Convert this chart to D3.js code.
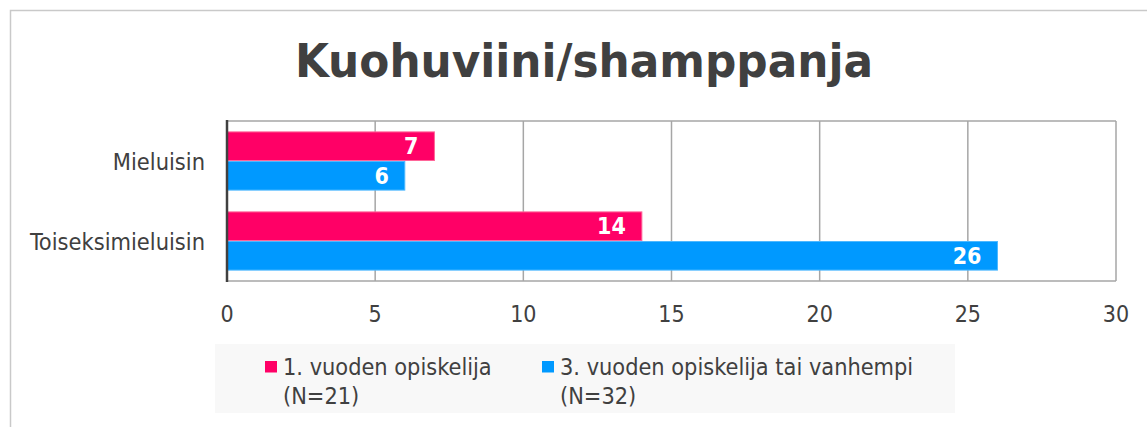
<!DOCTYPE html>
<html><head><meta charset="utf-8">
<script src="https://cdn.jsdelivr.net/npm/d3@7"></script>
<style>body{margin:0;background:#fff;} svg{display:block;}</style>
</head><body>
<script>
const title = "Kuohuviini/shamppanja";
const categories = ["Mieluisin", "Toiseksimieluisin"];
const seriesNames = ["1. vuoden opiskelija|(N=21)", "3. vuoden opiskelija tai vanhempi|(N=32)"];
const series1 = [7, 14];
const series2 = [6, 26];
const xTicks = [0, 5, 10, 15, 20, 25, 30];
const colors = ["#FF0066", "#0099FF"];
const strokes = ["#FF6699", "#4DB8FF"];

const W = 1147, H = 427;
const svg = d3.select("body").append("svg").attr("width", W).attr("height", H);
const font = "'DejaVu Sans Condensed', 'DejaVu Sans', sans-serif";
const txt = "#404040";

// outer frame
svg.append("path").attr("d", `M10.5,${H} V10.5 H${W}`).attr("fill","none").attr("stroke","#C9C9C9").attr("stroke-width",1.5);

svg.append("text").attr("x", 584).attr("y", 77).attr("text-anchor","middle")
  .attr("font-family", font).attr("font-weight","bold").attr("font-size", 47).attr("fill", txt)
  .attr("textLength", 578).attr("lengthAdjust","spacingAndGlyphs").text(title);

const x = d3.scaleLinear().domain([0,30]).range([227, 1116]);
const y = d3.scaleBand().domain(categories).range([121, 281]).paddingInner(0.26).paddingOuter(0.13);
const ys = d3.scaleBand().domain([0,1]).range([0, y.bandwidth()]);

// gridlines
svg.append("g").selectAll("line").data(xTicks.filter(t=>t>0)).join("line")
  .attr("x1", d=>x(d)).attr("x2", d=>x(d)).attr("y1",121).attr("y2",281)
  .attr("stroke","#A6A6A6").attr("stroke-width",1.5);
svg.append("line").attr("x1",227).attr("x2",1116).attr("y1",121).attr("y2",121).attr("stroke","#A6A6A6").attr("stroke-width",1.5);
svg.append("line").attr("x1",227).attr("x2",1116).attr("y1",281).attr("y2",281).attr("stroke","#A6A6A6").attr("stroke-width",1.5);

const data = categories.map((c,i)=>({c, vals:[series1[i], series2[i]]}));
const g = svg.append("g");
data.forEach(d=>{
  d.vals.forEach((v,s)=>{
    const yy = y(d.c)+ys(s);
    g.append("rect").attr("x", x(0)).attr("y", yy+0.5).attr("width", x(v)-x(0)).attr("height", ys.bandwidth()-1)
      .attr("fill", colors[s]).attr("stroke", strokes[s]).attr("stroke-width",1);
    g.append("text").attr("x", x(v)-16).attr("y", yy+ys.bandwidth()/2).attr("dy","0.36em")
      .attr("text-anchor","end").attr("font-family",font).attr("font-weight","bold").attr("font-size",23)
      .attr("fill","#fff").text(v);
  });
});

// left axis line
svg.append("line").attr("x1",227).attr("x2",227).attr("y1",120).attr("y2",282).attr("stroke","#404040").attr("stroke-width",2.5);

// category labels
svg.append("g").selectAll("text").data(categories).join("text")
  .attr("x", 205).attr("y", d=>y(d)+y.bandwidth()/2 + 9).attr("text-anchor","end")
  .attr("font-family",font).attr("font-size",23.4).attr("fill",txt).text(d=>d);

// x tick labels
svg.append("g").selectAll("text").data(xTicks).join("text")
  .attr("x", d=>x(d)).attr("y", 321.5).attr("text-anchor","middle")
  .attr("font-family",font).attr("font-size",23).attr("fill",txt).text(d=>d);

// legend
svg.append("rect").attr("x",215).attr("y",344).attr("width",740).attr("height",69).attr("fill","#F8F8F8");
const legX = [265, 542];
seriesNames.forEach((n,i)=>{
  svg.append("rect").attr("x",legX[i]).attr("y",361).attr("width",12).attr("height",11.5).attr("fill",colors[i]);
  const lines = n.split("|");
  lines.forEach((l,j)=>{
    svg.append("text").attr("x",legX[i]+18).attr("y",375+j*29)
      .attr("font-family",font).attr("font-size",23.3).attr("fill",txt).text(l);
  });
});
</script>
</body></html>
